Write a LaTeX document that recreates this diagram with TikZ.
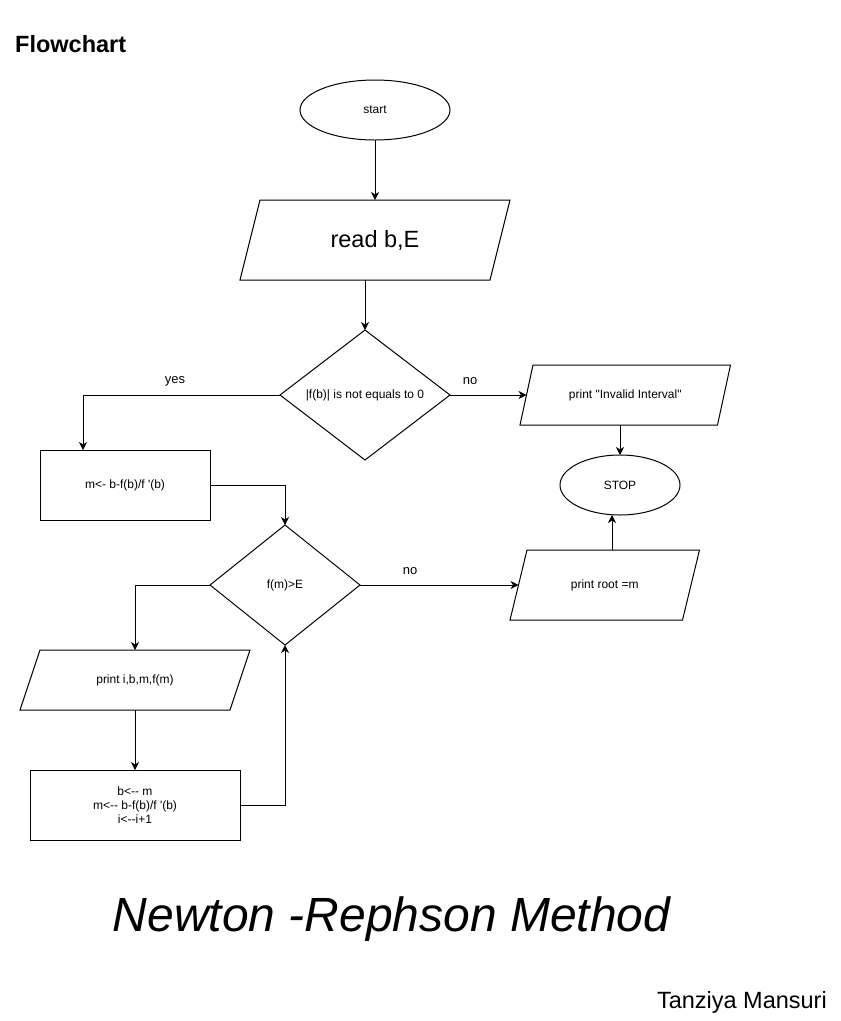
\documentclass[tikz,border=0pt]{standalone}
\usepackage{fontspec}
\setmainfont{Liberation Sans}[Ligatures=TeXOff]
\usetikzlibrary{shapes.geometric,arrows.meta,calc}

\tikzset{
  base/.style={inner sep=0pt, outer sep=0pt, line width=1pt,
    font=\fontsize{12}{14}\selectfont, align=center},
  terminal/.style={base, draw, ellipse},
  process/.style={base, draw, rectangle},
  decision/.style={base, draw, diamond},
  iobox/.style={base, rectangle},
  arr/.style={line width=1pt, -{Stealth[length=8pt,width=8pt,inset=2.5pt]}},
  lbl/.style={inner sep=0pt, font=\fontsize{13}{15}\selectfont},
}

% draw a parallelogram around an (invisible) node, slanted by #2 units
\newcommand{\slantbox}[2]{%
  \draw[line width=1pt] ($(#1.north west)+(#2,0)$) -- ($(#1.north east)+(#2,0)$)
    -- ($(#1.south east)-(#2,0)$) -- ($(#1.south west)-(#2,0)$) -- cycle;}

\begin{document}
\begin{tikzpicture}[x=1pt,y=-1pt]
\useasboundingbox (0,0) rectangle (841,1021);

% headings
\node[anchor=base west, inner sep=0pt, font=\bfseries\fontsize{23.5}{26}\selectfont]
  (title) at (15,52) {Flowchart};
\node[anchor=base, inner sep=0pt, font=\itshape\fontsize{48}{52}\selectfont]
  (method) at (391.5,931) {Newton -Rephson Method};
\node[anchor=base east, inner sep=0pt, font=\fontsize{23.5}{26}\selectfont]
  (author) at (827,1008) {Tanziya Mansuri};

% flowchart nodes
\node[terminal, minimum width=150pt, minimum height=60pt] (start) at (375,110) {start};
\node[iobox, minimum width=250pt, minimum height=80pt,
      font=\fontsize{23.5}{26}\selectfont] (read) at (375,240) {read b,E};
\slantbox{read}{10}
\node[decision, minimum width=170pt, minimum height=130pt] (d1) at (365,395)
  {|f(b)| is not equals to 0};
\node[iobox, minimum width=197.5pt, minimum height=60pt] (inv) at (625.25,395)
  {print "Invalid Interval"};
\slantbox{inv}{6.5}
\node[terminal, minimum width=120pt, minimum height=60pt] (stop) at (620,485) {STOP};
\node[process, minimum width=170pt, minimum height=70pt] (m1) at (125,485)
  {m<- b-f(b)/f \textquotesingle(b)};
\node[decision, minimum width=150pt, minimum height=120pt] (d2) at (285,585) {f(m)>E};
\node[iobox, minimum width=172.5pt, minimum height=70pt] (root) at (604.75,585)
  {print root =m};
\slantbox{root}{8.5}
\node[iobox, minimum width=210pt, minimum height=60pt] (pr) at (135,680)
  {print i,b,m,f(m)};
\slantbox{pr}{10}
\node[process, minimum width=210pt, minimum height=70pt] (upd) at (135,805)
  {b<-- m\\m<-- b-f(b)/f \textquotesingle(b)\\i<--i+1};

% helper columns for connectors
\coordinate (yescol) at (83,0);
\coordinate (rootcol) at (612,0);

% connectors
\draw[arr] (start.south) -- (read.north);
\draw[arr] (read.south -| d1.north) -- (d1.north);
\draw[arr] (d1.east) -- (inv.west);
\draw[arr] (inv.south -| stop.north) -- (stop.north);
\draw[arr] (d1.west) -| (m1.north -| yescol);
\draw[arr] (m1.east) -| (d2.north);
\draw[arr] (d2.east) -- (root.west);
\draw[arr] (root.north -| rootcol) -- (stop.south -| rootcol);
\draw[arr] (d2.west) -| (pr.north);
\draw[arr] (pr.south) -- (upd.north);
\draw[arr] (upd.east) -| (d2.south);

% branch labels
\node[lbl] (yes) at (175,381) {yes};
\node[lbl] (no1) at (470,381) {no};
\node[lbl] (no2) at (410,571) {no};
\end{tikzpicture}
\end{document}
